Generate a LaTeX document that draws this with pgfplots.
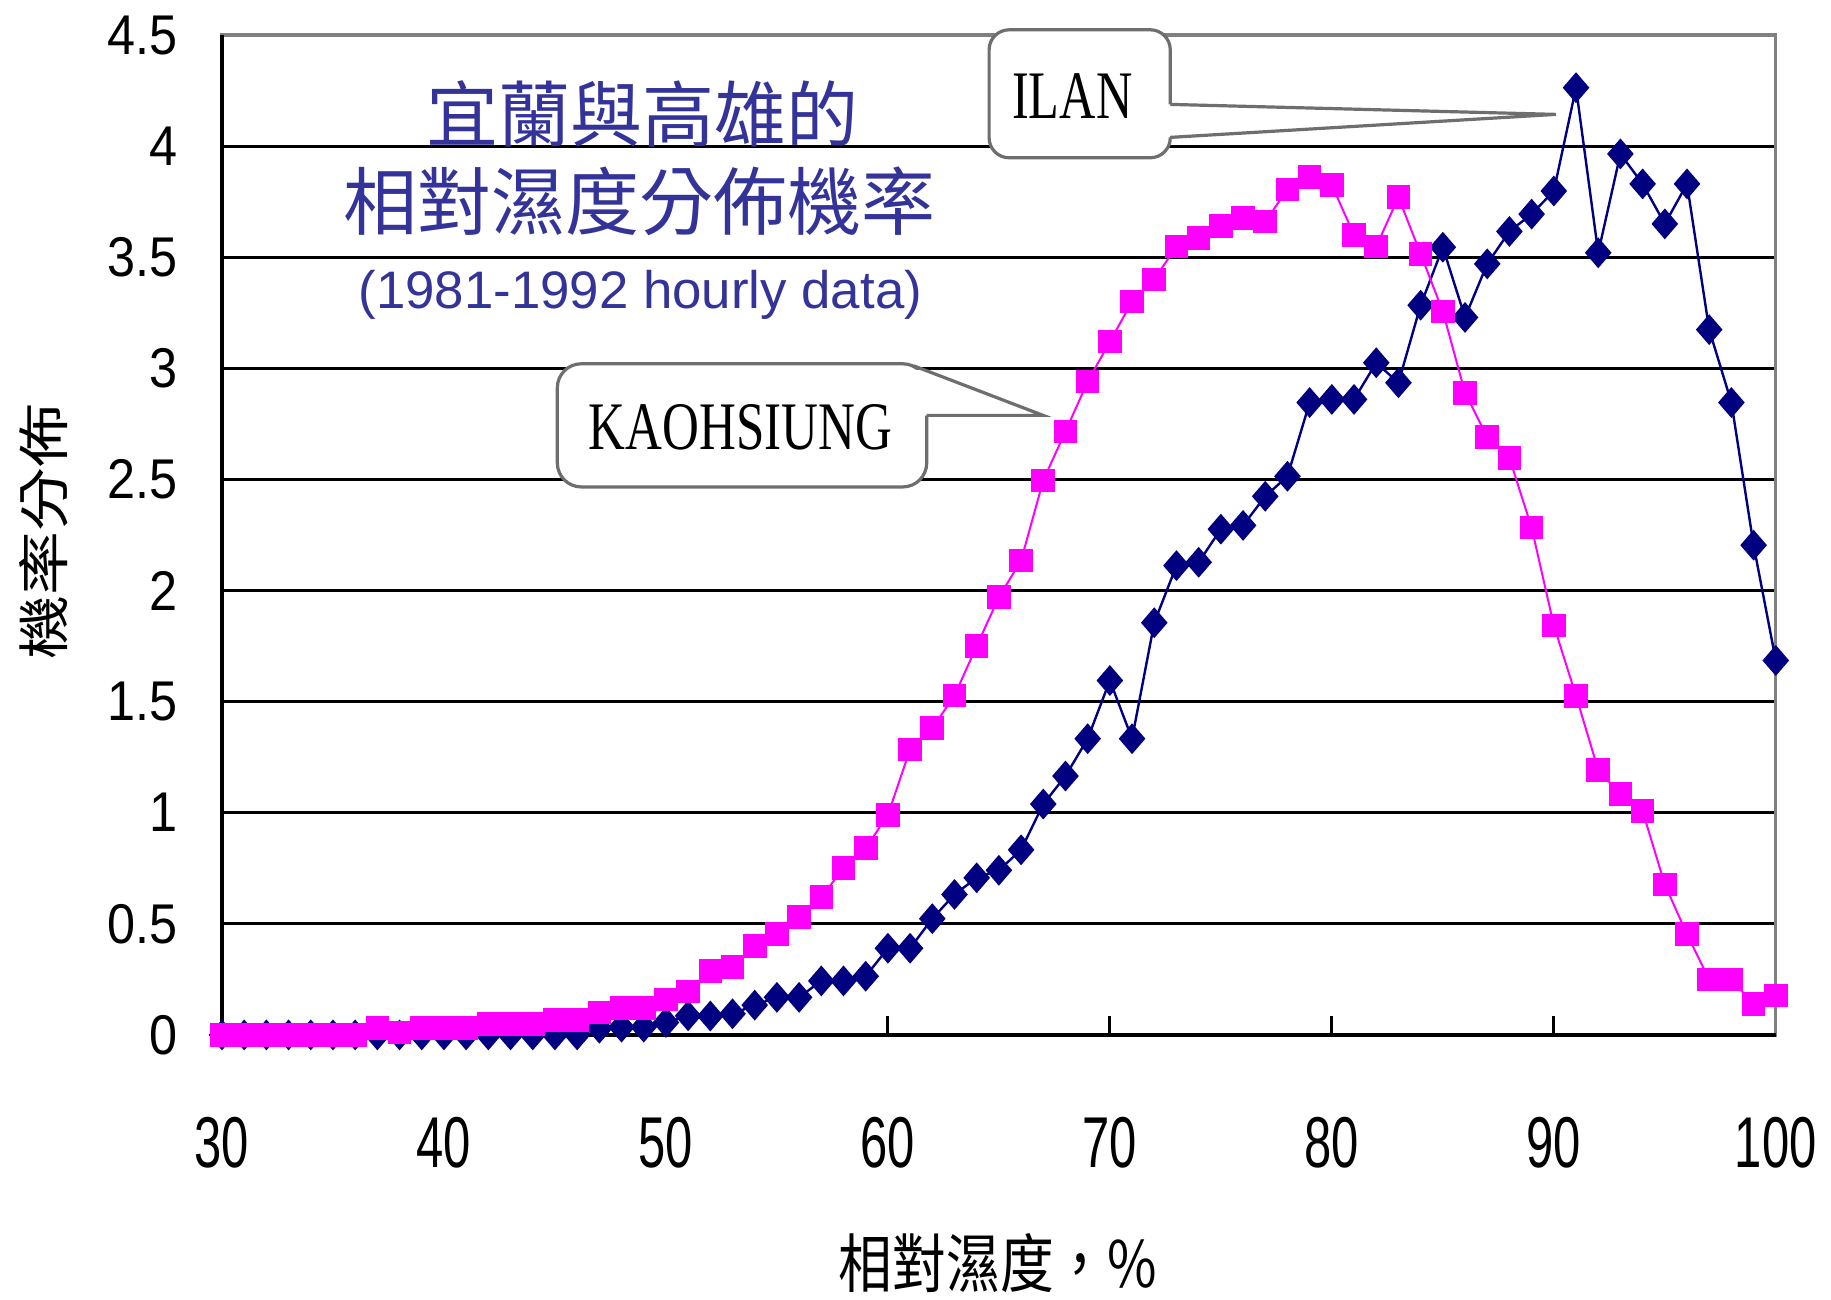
\documentclass[border=0pt]{standalone}
\usepackage{fontspec}
\setmainfont{Liberation Sans}
\newfontfamily\cjk{Noto Sans CJK TC}
\newfontfamily\serifb{Liberation Serif}
\usepackage{graphicx}
\usepackage{pgfplots}
\pgfplotsset{compat=1.18}
\definecolor{navyc}{RGB}{0,0,128}
\definecolor{magc}{RGB}{255,0,255}
\definecolor{titlec}{RGB}{51,51,153}
\definecolor{boxc}{RGB}{110,110,110}
\newcommand\xt[1]{\scalebox{0.68}[1]{#1}}
\newcommand\yt[1]{\scalebox{0.9}[1]{#1}}
\begin{document}
\begin{tikzpicture}
\path (-55.5pt,-66.1pt) rectangle (402.3pt,258.75pt);
\begin{axis}[
  at={(0pt,0pt)}, anchor=south west,
  scale only axis, width=388.5pt, height=250pt,
  xmin=30, xmax=100, ymin=0, ymax=4.5,
  xtick={30,40,50,60,70,80,90,100},
  xticklabels={\xt{30},\xt{40},\xt{50},\xt{60},\xt{70},\xt{80},\xt{90},\xt{100}},
  ytick={0,0.5,1,1.5,2,2.5,3,3.5,4},
  yticklabels={\yt{0},\yt{0.5},\yt{1},\yt{1.5},\yt{2},\yt{2.5},\yt{3},\yt{3.5},\yt{4}},
  extra y ticks={4.5},
  extra y tick labels={\yt{4.5}},
  extra y tick style={grid=none, major tick length=0pt},
  ymajorgrids,
  grid style={black, line width=0.8pt},
  axis line style={draw=gray, line width=0.8pt},
  xtick pos=left, ytick pos=left,
  tick align=inside,
  major tick length=4.75pt,
  xtick style={black, line width=0.8pt},
  ytick style={draw=none},
  xticklabel style={font=\fontsize{18}{18}\selectfont, anchor=north, inner sep=0pt, yshift=-20.3pt},
  yticklabel style={font=\fontsize{14}{14}\selectfont, anchor=east, inner sep=0pt, xshift=-11pt},
  clip=false,
]
\draw[black, line width=0.9pt] (rel axis cs:0,1) -- (rel axis cs:0,0) -- (rel axis cs:1,0);
\addplot[navyc, line width=0.6pt, mark=diamond*, mark size=3.4pt, mark options={xscale=1.15, solid, fill=navyc}] table[row sep=\\] {
x y\\
30 0\\ 31 0\\ 32 0\\ 33 0\\ 34 0\\ 35 0\\ 36 0\\ 37 0\\ 38 0\\ 39 0\\
40 0\\ 41 0\\ 42 0\\ 43 0\\ 44 0\\ 45 0\\ 46 0\\ 47 0.03\\ 48 0.035\\ 49 0.035\\
50 0.056\\ 51 0.086\\ 52 0.085\\ 53 0.095\\ 54 0.134\\ 55 0.169\\ 56 0.169\\ 57 0.243\\ 58 0.243\\ 59 0.264\\
60 0.39\\ 61 0.39\\ 62 0.523\\ 63 0.632\\ 64 0.707\\ 65 0.741\\ 66 0.833\\ 67 1.039\\ 68 1.165\\ 69 1.333\\
70 1.595\\ 71 1.333\\ 72 1.855\\ 73 2.112\\ 74 2.127\\ 75 2.276\\ 76 2.293\\ 77 2.424\\ 78 2.514\\ 79 2.846\\
80 2.86\\ 81 2.86\\ 82 3.025\\ 83 2.935\\ 84 3.284\\ 85 3.545\\ 86 3.229\\ 87 3.47\\ 88 3.616\\ 89 3.694\\
90 3.798\\ 91 4.263\\ 92 3.52\\ 93 3.965\\ 94 3.83\\ 95 3.65\\ 96 3.83\\ 97 3.174\\ 98 2.846\\ 99 2.204\\
100 1.685\\
};
\addplot[magc, line width=0.5pt, mark=square*, mark size=2.7pt, mark options={solid, fill=magc}] table[row sep=\\] {
x y\\
30 0\\ 31 0\\ 32 0\\ 33 0\\ 34 0\\ 35 0\\ 36 0\\ 37 0.03\\ 38 0.01\\ 39 0.03\\
40 0.03\\ 41 0.03\\ 42 0.05\\ 43 0.05\\ 44 0.05\\ 45 0.066\\ 46 0.066\\ 47 0.10\\ 48 0.12\\ 49 0.12\\
50 0.16\\ 51 0.196\\ 52 0.287\\ 53 0.305\\ 54 0.40\\ 55 0.455\\ 56 0.53\\ 57 0.62\\ 58 0.75\\ 59 0.84\\
60 0.99\\ 61 1.285\\ 62 1.38\\ 63 1.527\\ 64 1.75\\ 65 1.97\\ 66 2.135\\ 67 2.496\\ 68 2.716\\ 69 2.94\\
70 3.12\\ 71 3.30\\ 72 3.40\\ 73 3.549\\ 74 3.586\\ 75 3.64\\ 76 3.677\\ 77 3.66\\ 78 3.805\\ 79 3.86\\
80 3.825\\ 81 3.60\\ 82 3.548\\ 83 3.77\\ 84 3.515\\ 85 3.256\\ 86 2.89\\ 87 2.69\\ 88 2.596\\ 89 2.283\\
90 1.843\\ 91 1.526\\ 92 1.192\\ 93 1.084\\ 94 1.007\\ 95 0.677\\ 96 0.453\\ 97 0.249\\ 98 0.249\\ 99 0.138\\
100 0.177\\
};
\end{axis}
% titles
\node[titlec, font=\cjk\fontsize{18}{18}\selectfont, inner sep=0pt] at (105.1pt,230.2pt) {宜蘭與高雄的};
\node[titlec, font=\cjk\fontsize{18.5}{18.5}\selectfont, inner sep=0pt] at (104.4pt,208.3pt) {相對濕度分佈機率};
\node[titlec, font=\fontsize{13.2}{13.2}\selectfont, inner sep=0pt] at (104.6pt,185.1pt) {(1981-1992 hourly data)};
% ILAN callout
\draw[fill=white, draw=boxc, line width=0.8pt, rounded corners=5pt] (191.8pt,219.3pt) rectangle (237.1pt,251.3pt);
\fill[white] (236.4pt,232.65pt) -- (333.5pt,230.15pt) -- (236.4pt,224.4pt) -- cycle;
\draw[boxc, line width=0.8pt] (237.1pt,232.65pt) -- (333.5pt,230.15pt) -- (237.1pt,224.4pt);
\node[font=\serifb\fontsize{17}{17}\selectfont, inner sep=0pt] at (212.6pt,234.8pt) {\scalebox{0.74}[1]{ILAN}};
% KAOHSIUNG callout
\draw[fill=white, draw=boxc, line width=0.8pt, rounded corners=6pt] (83.85pt,137.0pt) rectangle (176.2pt,167.8pt);
\fill[white] (172.9pt,166.2pt) -- (205.3pt,154.9pt) -- (175.4pt,154.9pt) -- cycle;
\fill[white] (172.9pt,166.2pt) -- (176.6pt,166.2pt) -- (176.6pt,154.9pt) -- (175.4pt,154.9pt) -- cycle;
\draw[boxc, line width=0.8pt] (172.9pt,167.3pt) -- (205.3pt,154.9pt) -- (176.2pt,154.9pt);
\node[font=\serifb\fontsize{17}{17}\selectfont, inner sep=0pt] at (129.65pt,151.8pt) {\scalebox{0.75}[1]{KAOHSIUNG}};
% axis labels
\node[font=\cjk\fontsize{16}{16}\selectfont, inner sep=0pt] at (194pt,-57.1pt) {\scalebox{0.84}[1]{相對濕度，\%}};
\node[font=\cjk\fontsize{13}{13}\selectfont, inner sep=0pt, rotate=90] at (-44.7pt,125.9pt) {\scalebox{1.23}[1]{機率分佈}};
\end{tikzpicture}
\end{document}
